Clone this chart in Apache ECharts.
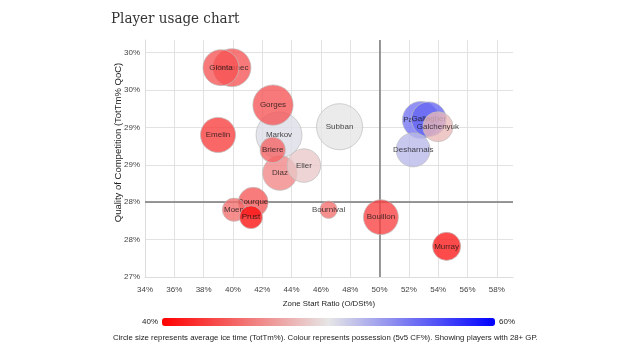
<!DOCTYPE html>
<html>
<head>
<meta charset="utf-8">
<script src="https://cdn.jsdelivr.net/npm/echarts@6/dist/echarts.min.js"></script>
<style>html,body{margin:0;padding:0;background:#fff}#c{width:640px;height:360px}</style>
</head>
<body>
<div id="c"></div>
<script>
// Players, ordered by ice time (largest drawn first)
const players    = ['Subban','Markov','Gorges','Plekanec','Pacioretty','Gionta','Emelin','Bouillon','Gallagher','Diaz','Desharnais','Eller','Galchenyuk','Bourque','Murray','Briere','Moen','Prust','Bournival'];
const zoneStart  = [47.27, 43.14, 42.73, 39.93, 52.82, 39.18, 38.98, 50.09, 53.36, 43.20, 52.29, 44.84, 53.98, 41.38, 54.57, 42.71, 40.07, 41.23, 46.52];
const qoc        = [29.51, 29.40, 29.80, 30.30, 29.60, 30.30, 29.40, 28.30, 29.61, 28.89, 29.20, 28.99, 29.51, 28.50, 27.91, 29.20, 28.40, 28.30, 28.40];
const corsiFor   = [50.0, 50.4, 43.6, 43.6, 55.0, 43.6, 42.6, 42.8, 55.6, 45.8, 52.0, 48.7, 48.0, 43.8, 41.0, 44.2, 44.8, 40.6, 44.8];
const iceTime    = [40.1, 40.0, 36.9, 35.6, 35.1, 34.5, 34.0, 33.9, 33.8, 33.7, 33.4, 33.1, 31.2, 31.1, 30.1, 28.5, 27.4, 27.2, 24.2];

const xTicks      = [34,36,38,40,42,44,46,48,50,52,54,56,58];
const xTickLabels = ['34%','36%','38%','40%','42%','44%','46%','48%','50%','52%','54%','56%','58%'];
const yTicks      = [27.5,28,28.5,29,29.5,30,30.5];
const yTickLabels = ['27%','28%','28%','29%','29%','30%','30%'];
const avgZoneStart = 50;
const avgQoc = 28.5;
const cfRange = [40, 60];
const cfLabels = ['60%', '40%'];

const font = 'Liberation Sans, Arial, Helvetica, sans-serif';

function lookup(ticks, labels, v) {
  for (let i = 0; i < ticks.length; i++) if (Math.abs(ticks[i] - v) < 1e-6) return labels[i];
  return '';
}

const series = [{
  type: 'scatter',
  z: 1,
  data: [],
  silent: true,
  markLine: {
    silent: true,
    symbol: 'none',
    label: { show: false },
    lineStyle: { color: '#777', width: 1.5, type: 'solid' },
    data: [{ xAxis: avgZoneStart }, { yAxis: avgQoc }]
  }
}];
players.forEach((p, i) => {
  series.push({
    type: 'scatter',
    name: p,
    z: 2 + i,
    data: [{ name: p, value: [zoneStart[i], qoc[i], corsiFor[i], iceTime[i]] }],
    symbolSize: v => 1.8 * (v[3] - 14.5),
    itemStyle: { opacity: 0.78, borderColor: 'rgba(190,190,190,0.9)', borderWidth: 1 },
    label: { show: true, position: 'inside', formatter: '{b}', color: '#111', fontSize: 8, fontFamily: font },
    emphasis: { disabled: true }
  });
});

const chart = echarts.init(document.getElementById('c'), null, { renderer: 'canvas' });
chart.setOption({
  animation: false,
  backgroundColor: '#fff',
  title: [{
    text: 'Player usage chart',
    left: 106, top: 7,
    textStyle: { fontFamily: '"DejaVu Serif Condensed", "Liberation Serif", serif', fontSize: 15, fontWeight: 'normal', color: '#333' }
  }, {
    text: 'Circle size represents average ice time (TotTm%). Colour represents possession (5v5 CF%). Showing players with 28+ GP.',
    left: 108, top: 329,
    textStyle: { fontFamily: font, fontSize: 7.8, fontWeight: 'normal', color: '#222' }
  }],
  grid: { left: 145, right: 127, top: 40, bottom: 83 },
  xAxis: {
    type: 'value', min: 34, max: 59.1, interval: 2,
    name: 'Zone Start Ratio (O/DSt%)', nameLocation: 'middle', nameGap: 23, nameMoveOverlap: false,
    nameTextStyle: { fontFamily: font, fontSize: 7.8, color: '#222' },
    axisLine: { show: true, lineStyle: { color: '#ddd' } },
    axisTick: { show: false },
    axisLabel: { margin: 9, fontFamily: font, fontSize: 8, color: '#444',
      formatter: v => lookup(xTicks, xTickLabels, v) },
    splitLine: { show: true, showMaxLine: false, lineStyle: { color: '#e2e2e2' } }
  },
  yAxis: {
    type: 'value', min: 27.5, max: 30.67, interval: 0.5,
    name: 'Quality of Competition (TotTm% QoC)', nameLocation: 'middle', nameGap: 22, nameMoveOverlap: false,
    nameTextStyle: { fontFamily: font, fontSize: 9.5, color: '#222', padding: [0, 0, 0, 32] },
    axisLine: { show: true, lineStyle: { color: '#ddd' } },
    axisTick: { show: false },
    axisLabel: { margin: 5, fontFamily: font, fontSize: 8, color: '#444',
      formatter: v => lookup(yTicks, yTickLabels, v) },
    splitLine: { show: true, showMaxLine: false, lineStyle: { color: '#e2e2e2' } }
  },
  visualMap: {
    type: 'continuous',
    min: cfRange[0], max: cfRange[1],
    dimension: 2,
    orient: 'horizontal',
    left: 127, top: 303,
    itemWidth: 8, itemHeight: 333,
    text: cfLabels, textGap: 4,
    textStyle: { fontFamily: font, fontSize: 8, color: '#222' },
    calculable: false,
    hoverLink: false,
    inRange: { color: ['#ff0000', '#e6e6e6', '#0000ff'] }
  },
  series: series
});
</script>
</body>
</html>
